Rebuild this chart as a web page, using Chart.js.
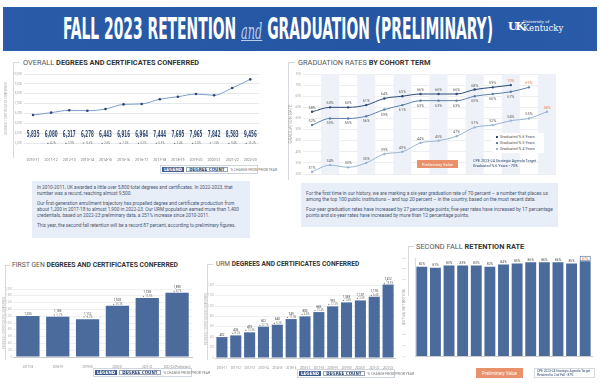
<!DOCTYPE html>
<html>
<head>
<meta charset="utf-8">
<script src="https://cdn.jsdelivr.net/npm/chart.js@4.4.1/dist/chart.umd.min.js"></script>
<style>
  body { margin:0; width:600px; height:389px; background:#fff; position:relative; overflow:hidden; font-family:Roboto, "DejaVu Sans", sans-serif; }
  .abs { position:absolute; }
  .header { left:3px; top:7px; width:594px; height:44px; background:linear-gradient(90deg,#2a5ba8,#2556a3 60%,#2a5ba8); }
  .title { left:60px; top:6px; color:#fff; white-space:nowrap; font-family:"Liberation Sans Narrow","DejaVu Sans Condensed",sans-serif; font-weight:bold; font-size:30px; line-height:32px; transform-origin:0 0; }
  .title i { font-family:"DejaVu Serif",serif; font-weight:normal; font-size:22px; color:#b9cdea; text-decoration:underline; text-decoration-thickness:1px; }
  .logo { color:#fff; font-family:"DejaVu Serif",serif; }
  .logo .uk { position:absolute; left:0; top:2px; font-size:11px; font-weight:bold; letter-spacing:-2px; }
  .logo .u1 { position:absolute; left:15px; top:1px; font-size:4px; white-space:nowrap; }
  .logo .u2 { position:absolute; left:15px; top:5px; font-size:8.5px; white-space:nowrap; }
  .ptitle { font-size:7.4px; color:#555; white-space:nowrap; }
  .ptitle b { color:#333; }
  .note { background:#e7eef8; color:#4a5670; font-size:4.75px; line-height:6px; padding:4px 5px; box-sizing:border-box; }
  .note p { margin:0 0 4px 0; }
  .legend { display:flex; align-items:stretch; border:1px solid #cfd5de; height:9px; background:#fff; box-sizing:border-box; white-space:nowrap; }
  .legend .lg { background:#3d5b8c; color:#fff; font-weight:bold; display:flex; align-items:center; padding:0 2px; margin:1px; font-family:"Liberation Sans Narrow","DejaVu Sans Condensed",sans-serif; font-size:4.5px; }
  .legend .dc { border:0.6px solid #9aa6b8; color:#2d4770; font-weight:bold; display:flex; align-items:center; padding:0 2px; margin:1px; font-family:"Liberation Sans Narrow","DejaVu Sans Condensed",sans-serif; font-size:4.5px; }
  .legend .pc { color:#777; display:flex; align-items:center; padding:0 2px; font-size:3.4px; }
  .vline { background:#d6d9de; width:1px; }
  .hline { background:#d6d9de; height:1px; }
  .glegend { background:#fff; font-size:3.8px; color:#555; line-height:6px; padding:1px 4px; box-sizing:border-box; white-space:nowrap; }
  .glegend span { display:inline-block; width:2px; height:2px; margin-right:2px; vertical-align:middle; }
  .prelim { background:#e8916b; color:#fff; font-size:4px; display:flex; align-items:center; justify-content:center; white-space:nowrap; }
  .cpe { color:#2d4770; font-size:3.8px; line-height:4.6px; white-space:nowrap; }
</style>
</head>
<body>
<div class="abs header">
  <div class="abs title" id="title"><span id="titleText">FALL 2023 RETENTION <i>and</i> GRADUATION (PRELIMINARY)</span></div>
  <div class="abs logo" style="top:11px;left:505px;">
    <div class="uk">UK</div>
    <div class="u1">University of</div>
    <div class="u2">Kentucky</div>
  </div>
</div>

<div class="abs hline" style="left:13px;top:62px;width:7px;"></div>
<div class="abs vline" style="left:13px;top:62px;height:96px;"></div>
<div class="abs hline" style="left:288px;top:62px;width:7px;"></div>
<div class="abs vline" style="left:288px;top:62px;height:118px;"></div>
<div class="abs hline" style="left:5px;top:265px;width:5px;"></div>
<div class="abs vline" style="left:5px;top:265px;height:95px;"></div>
<div class="abs hline" style="left:207px;top:264px;width:6px;"></div>
<div class="abs vline" style="left:207px;top:264px;height:96px;"></div>
<div class="abs hline" style="left:408px;top:246px;width:6px;"></div>
<div class="abs vline" style="left:408px;top:246px;height:50px;"></div>

<div class="abs ptitle" style="left:23px;top:58px;">OVERALL <b>DEGREES AND CERTIFICATES CONFERRED</b></div>
<div class="abs ptitle" style="left:298px;top:58px;">GRADUATION RATES <b>BY COHORT TERM</b></div>
<div class="abs ptitle" style="left:12px;top:261px;font-size:6.8px;">FIRST GEN <b>DEGREES AND CERTIFICATES CONFERRED</b></div>
<div class="abs ptitle" style="left:216px;top:260px;font-size:6.6px;">URM <b>DEGREES AND CERTIFICATES CONFERRED</b></div>
<div class="abs ptitle" style="left:416px;top:242px;">SECOND FALL <b>RETENTION RATE</b></div>

<div class="abs" style="left:4px;top:66px;width:260px;height:96px;"><canvas id="overallChart" width="260" height="96"></canvas></div>
<div class="abs" style="left:288px;top:66px;width:272px;height:120px;"><canvas id="gradChart" width="272" height="120"></canvas></div>
<div class="abs" style="left:2px;top:282px;width:194px;height:86px;"><canvas id="firstGenChart" width="194" height="86"></canvas></div>
<div class="abs" style="left:204px;top:273px;width:194px;height:96px;"><canvas id="urmChart" width="194" height="96"></canvas></div>
<div class="abs" style="left:402px;top:252px;width:196px;height:112px;"><canvas id="retentionChart" width="196" height="112"></canvas></div>

<div class="abs legend" style="left:160px;top:165px;width:98px;"><div class="lg">LEGEND</div><div class="dc">DEGREE COUNT</div><div class="pc">% CHANGE FROM PRIOR YEAR</div></div>
<div class="abs legend" style="left:93px;top:368px;width:99px;"><div class="lg">LEGEND</div><div class="dc">DEGREE COUNT</div><div class="pc">% CHANGE FROM PRIOR YEAR</div></div>
<div class="abs legend" style="left:297px;top:369px;width:98px;"><div class="lg">LEGEND</div><div class="dc">DEGREE COUNT</div><div class="pc">% CHANGE FROM PRIOR YEAR</div></div>

<div class="abs note" style="left:32px;top:181px;width:218px;height:57px;">
  <p>In 2010-2011, UK awarded a little over 5,800 total degrees and certificates. In 2022-2023, that number was a record, reaching almost 9,500.</p>
  <p>Our first-generation enrollment trajectory has propelled degree and certificate production from about 1,200 in 2017-18 to almost 1,900 in 2022-23. Our URM population earned more than 1,400 credentials, based on 2022-23 preliminary data, a 251% increase since 2010-2011.</p>
  <p>This year, the second fall retention will be a record 87 percent, according to preliminary figures.</p>
</div>
<div class="abs note" style="left:301px;top:183px;width:257px;height:44px;padding-top:8px;font-size:4.85px;">
  <p>For the first time in our history, we are marking a six-year graduation rate of 70 percent – a number that places us among the top 100 public institutions – and top 20 percent – in the country, based on the most recent data.</p>
  <p>Four-year graduation rates have increased by 27 percentage points; five-year rates have increased by 17 percentage points and six-year rates have increased by more than 12 percentage points.</p>
</div>

<div class="abs glegend" style="left:492px;top:133px;width:52px;height:20px;">
  <div><span style="background:#2d4a75"></span>Graduated % 6 Years</div>
  <div><span style="background:#5c7fa8"></span>Graduated % 5 Years</div>
  <div><span style="background:#98b4d4"></span>Graduated % 4 Years</div>
</div>
<div class="abs prelim" style="left:417px;top:160px;width:41px;height:8px;">Preliminary Value</div>
<div class="abs cpe" style="left:473px;top:159px;">CPE 2023-24 Strategic Agenda Target<br>Graduated % 6 Years - 70%</div>

<div class="abs prelim" style="left:476px;top:368px;width:47px;height:10px;font-size:4.5px;">Preliminary Value</div>
<div class="abs cpe" style="left:534px;top:368px;width:61px;height:10px;border:1px solid #d6d9de;padding:0 2px;box-sizing:border-box;font-size:3.2px;line-height:4px;">CPE 2023-24 Strategic Agenda Target<br>Retained to 2nd Fall - 87%</div>

<script>
  const overallYears = ["2010-11", "2011-12", "2012-13", "2013-14", "2014-15", "2015-16", "2016-17", "2017-18", "2018-19", "2019-20", "2020-21", "2021-22", "2022-23"];
  const overallDegrees = [5835, 6080, 6317, 6278, 6443, 6916, 6964, 7444, 7695, 7965, 7842, 8583, 9456];

  const cohortTerms = ["Fall 2006", "Fall 2007", "Fall 2008", "Fall 2009", "Fall 2010", "Fall 2011", "Fall 2012", "Fall 2013", "Fall 2014", "Fall 2015", "Fall 2016", "Fall 2017", "Fall 2018", "Fall 2019"];
  const grad6 = [58, 60, 60, 61, 64, 65, 66, 66, 66, 68, 69, 70, null, null];
  const grad5 = [52, 55, 55, 56, 59, 61, 63, 63, 63, 65, 66, 67, 69, null];
  const grad4 = [31, 34, 33, 35, 39, 40, 44, 45, 47, 51, 52, 54, 55, 58];

  const firstGenYears = ["2017-18", "2018-19", "2019-20", "2020-21", "2021-22", "2022-23 (Preliminary)"];
  const firstGenDegrees = [1205, 1185, 1112, 1505, 1738, 1890];

  const urmYears = ["2010-11", "2011-12", "2012-13", "2013-14", "2014-15", "2015-16", "2016-17", "2017-18", "2018-19", "2019-20", "2020-21", "2021-22", ["2022-23", "(Preliminary)"]];
  const urmDegrees = [402, 435, 493, 602, 640, 749, 800, 883, 992, 1069, 1107, 1178, 1412];

  const retentionTerms = ["Fall 2010", "Fall 2011", "Fall 2012", "Fall 2013", "Fall 2014", "Fall 2015", "Fall 2016", "Fall 2017", "Fall 2018", "Fall 2019", "Fall 2020", "Fall 2021", "Fall 2022"];
  const retentionRates = [82, 81, 83, 83, 83, 82, 84, 85, 86, 86, 86, 85, 87];

  const colors = {
    navy: "#2d4770",
    bar: "#4a6b9c",
    six: "#2d4a75",
    five: "#5c7fa8",
    four: "#98b4d4",
    band: "#eef2f8",
    grid: "#e6e8ec",
    orange: "#e8835a",
  };
  const condensed = '"Liberation Sans Narrow", "DejaVu Sans Condensed", sans-serif';

  // squeeze the banner title into its slot
  const titleText = document.getElementById("titleText");
  document.getElementById("title").style.transform = "scaleX(" + (430 / titleText.getBoundingClientRect().width) + ")";

  Chart.defaults.font.family = "Roboto, 'DejaVu Sans', sans-serif";
  Chart.defaults.color = "#888";
  Chart.defaults.animation = false;

  function pctChange(arr, i) {
    if (i === 0) return null;
    return (arr[i] - arr[i - 1]) / arr[i - 1] * 100;
  }
  function fmt(n) { return n.toLocaleString("en-US"); }
  function fixWidth(w) { return (s) => { s.width = w; }; }
  function fixHeight(h) { return (s) => { s.height = h; }; }

  function baseOpts(extra) {
    return Object.assign({
      responsive: false,
      devicePixelRatio: 1,
      plugins: { legend: { display: false }, tooltip: { enabled: false } },
    }, extra);
  }

  // Overall chart: big count labels and % change inside the plot
  const overallLabels = {
    id: "overallLabels",
    afterDatasetsDraw(chart) {
      const { ctx, chartArea } = chart;
      const meta = chart.getDatasetMeta(0);
      ctx.save();
      ctx.textAlign = "center";
      meta.data.forEach((pt, i) => {
        ctx.save();
        ctx.translate(pt.x, chartArea.bottom - 6);
        ctx.scale(0.5, 1);
        ctx.font = "bold 9px " + condensed;
        ctx.fillStyle = colors.navy;
        ctx.fillText(fmt(overallDegrees[i]), 0, 0);
        ctx.restore();
        const p = pctChange(overallDegrees, i);
        if (p !== null) {
          ctx.font = "2.8px Roboto";
          ctx.fillStyle = "#777";
          ctx.fillText((p >= 0 ? "▲ " : "▼ ") + p.toFixed(1) + "%", pt.x, chartArea.bottom + 0.5);
        }
      });
      ctx.restore();
    },
  };

  new Chart(document.getElementById("overallChart"), {
    type: "line",
    data: {
      labels: overallYears,
      datasets: [{
        data: overallDegrees,
        borderColor: "#7d9dca",
        borderWidth: 1,
        pointRadius: 1.3,
        pointBackgroundColor: colors.navy,
        pointBorderWidth: 0,
        cubicInterpolationMode: "monotone",
      }],
    },
    options: baseOpts({
      layout: { padding: { top: 8, right: 4 } },
      scales: {
        x: {
          offset: true,
          grid: { display: false },
          border: { display: false },
          ticks: { font: { size: 3.6 }, color: "#777", padding: 7, maxRotation: 0, autoSkip: false },
          afterFit: fixHeight(19),
        },
        y: {
          min: 3000,
          max: 10000,
          ticks: { stepSize: 500, font: { size: 3 }, color: "#aaa", padding: 2 },
          grid: { color: colors.grid, drawTicks: false },
          border: { display: false },
          title: { display: true, text: "DEGREES / CERTIFICATES CONFERRED", font: { size: 3 }, color: "#aaa", padding: 0 },
          afterFit: fixWidth(20),
        },
      },
    }),
    plugins: [overallLabels],
  });

  // Graduation chart: shaded columns and point labels
  const gradBands = {
    id: "gradBands",
    beforeDatasetsDraw(chart) {
      const { ctx, chartArea, scales } = chart;
      const w = (chartArea.right - chartArea.left) / cohortTerms.length;
      ctx.save();
      ctx.fillStyle = colors.band;
      cohortTerms.forEach((t, i) => {
        if (i % 2 === 1) {
          const x = scales.x.getPixelForValue(i);
          ctx.fillRect(x - w / 2, chartArea.top, w, chartArea.bottom - chartArea.top);
        }
      });
      ctx.restore();
    },
    afterDatasetsDraw(chart) {
      const { ctx } = chart;
      ctx.save();
      ctx.textAlign = "center";
      ctx.font = "3.8px Roboto";
      [grad6, grad5, grad4].forEach((arr, d) => {
        const meta = chart.getDatasetMeta(d);
        let last = -1;
        arr.forEach((v, i) => { if (v !== null) last = i; });
        arr.forEach((v, i) => {
          if (v === null) return;
          const pt = meta.data[i];
          const below = d === 1 && i !== 0 && i !== last;
          ctx.fillStyle = i === last ? colors.orange : "#666";
          ctx.fillText(v + "%", pt.x, below ? pt.y + 6 : pt.y - 3);
        });
      });
      ctx.restore();
    },
  };

  function gradSet(data, color) {
    return {
      data: data,
      borderColor: color,
      backgroundColor: color,
      borderWidth: 1,
      pointRadius: 1.2,
      pointBorderWidth: 0,
      cubicInterpolationMode: "monotone",
    };
  }

  new Chart(document.getElementById("gradChart"), {
    type: "line",
    data: {
      labels: cohortTerms,
      datasets: [gradSet(grad6, colors.six), gradSet(grad5, colors.five), gradSet(grad4, colors.four)],
    },
    options: baseOpts({
      layout: { padding: { top: 8, right: 3 } },
      scales: {
        x: {
          offset: true,
          grid: { display: false },
          border: { display: false },
          ticks: { font: { size: 3.4, weight: "bold" }, color: "#777", padding: 3, maxRotation: 0, autoSkip: false },
          afterFit: fixHeight(12),
        },
        y: {
          min: 30,
          max: 75,
          ticks: { stepSize: 5, font: { size: 3 }, color: "#aaa", padding: 2, callback: (v) => v + "%" },
          grid: { color: "#eceef2", drawTicks: false },
          border: { display: false },
          title: { display: true, text: "GRADUATION RATE", font: { size: 4.5 }, color: "#aaa", padding: 0 },
          afterFit: fixWidth(15),
        },
      },
    }),
    plugins: [gradBands],
  });

  // Bar label plugin: count above bar plus small % change line
  function barLabels(values) {
    return {
      id: "barLabels",
      afterDatasetsDraw(chart) {
        const { ctx } = chart;
        const meta = chart.getDatasetMeta(0);
        ctx.save();
        ctx.textAlign = "center";
        meta.data.forEach((bar, i) => {
          const p = pctChange(values, i);
          ctx.fillStyle = "#444";
          ctx.font = "3px Roboto";
          ctx.fillText(fmt(values[i]), bar.x, bar.y - (p === null ? 1.5 : 4.5));
          if (p !== null) {
            ctx.font = "2.6px Roboto";
            ctx.fillStyle = "#777";
            ctx.fillText((p >= 0 ? "▲ " : "▼ ") + p.toFixed(1) + "%", bar.x, bar.y - 1);
          }
        });
        ctx.restore();
      },
    };
  }

  function barOpts(yMax, step, leftW, bottomH, titleText, padRight, padTop) {
    return baseOpts({
      layout: { padding: { top: padTop, right: padRight } },
      scales: {
        x: {
          grid: { display: false },
          border: { color: "#ccc" },
          ticks: { font: { size: 2.8 }, color: "#888", padding: 1, maxRotation: 0, autoSkip: false },
          afterFit: fixHeight(bottomH),
        },
        y: {
          min: 0,
          max: yMax,
          ticks: { stepSize: step, font: { size: 2.6 }, color: "#bbb", padding: 1 },
          grid: { color: "#eef0f3", drawTicks: false },
          border: { display: false },
          title: { display: true, text: titleText, font: { size: 3 }, color: "#aaa", padding: 0 },
          afterFit: fixWidth(leftW),
        },
      },
    });
  }

  new Chart(document.getElementById("firstGenChart"), {
    type: "bar",
    data: {
      labels: firstGenYears,
      datasets: [{ data: firstGenDegrees, backgroundColor: colors.bar, barPercentage: 0.78, categoryPercentage: 1 }],
    },
    options: barOpts(2000, 200, 11, 11, "DEGREES / CERTIFICATES CONFERRED", 4, 7),
    plugins: [barLabels(firstGenDegrees)],
  });

  new Chart(document.getElementById("urmChart"), {
    type: "bar",
    data: {
      labels: urmYears,
      datasets: [{ data: urmDegrees, backgroundColor: colors.bar, barPercentage: 0.8, categoryPercentage: 1 }],
    },
    options: barOpts(1500, 100, 11, 11, "DEGREES / CERTIFICATES CONFERRED", 3, 7),
    plugins: [barLabels(urmDegrees)],
  });

  // Retention chart
  const retentionLabels = {
    id: "retentionLabels",
    afterDatasetsDraw(chart) {
      const { ctx } = chart;
      const meta = chart.getDatasetMeta(0);
      const last = retentionRates.length - 1;
      ctx.save();
      ctx.textAlign = "center";
      ctx.font = "3.4px Roboto";
      meta.data.forEach((bar, i) => {
        if (i === last) {
          ctx.fillStyle = "#fff";
          ctx.strokeStyle = colors.bar;
          ctx.lineWidth = 0.6;
          ctx.fillRect(bar.x - 5, bar.y - 5, 10, 4.5);
          ctx.strokeRect(bar.x - 5, bar.y - 5, 10, 4.5);
          ctx.fillStyle = colors.orange;
        } else {
          ctx.fillStyle = "#555";
        }
        ctx.fillText(retentionRates[i] + "%", bar.x, bar.y - 1.5);
      });
      ctx.restore();
    },
  };

  new Chart(document.getElementById("retentionChart"), {
    type: "bar",
    data: {
      labels: retentionTerms,
      datasets: [{ data: retentionRates, backgroundColor: colors.bar, barPercentage: 0.8, categoryPercentage: 1 }],
    },
    options: baseOpts({
      layout: { padding: { top: 6, right: 6 } },
      scales: {
        x: {
          grid: { display: false },
          border: { color: "#ccc" },
          ticks: { font: { size: 2.8, weight: "bold" }, color: "#888", padding: 1, maxRotation: 0, autoSkip: false },
          afterFit: fixHeight(8),
        },
        y: {
          min: 0,
          max: 90,
          ticks: { stepSize: 5, font: { size: 2.4 }, color: "#bbb", padding: 1, callback: (v) => v + "%" },
          grid: { display: false },
          border: { color: "#ddd" },
          title: { display: true, text: "INITIAL RETENTION", font: { size: 4 }, color: "#aaa", padding: 0 },
          afterFit: fixWidth(13),
        },
      },
    }),
    plugins: [retentionLabels],
  });
</script>
</body>
</html>
